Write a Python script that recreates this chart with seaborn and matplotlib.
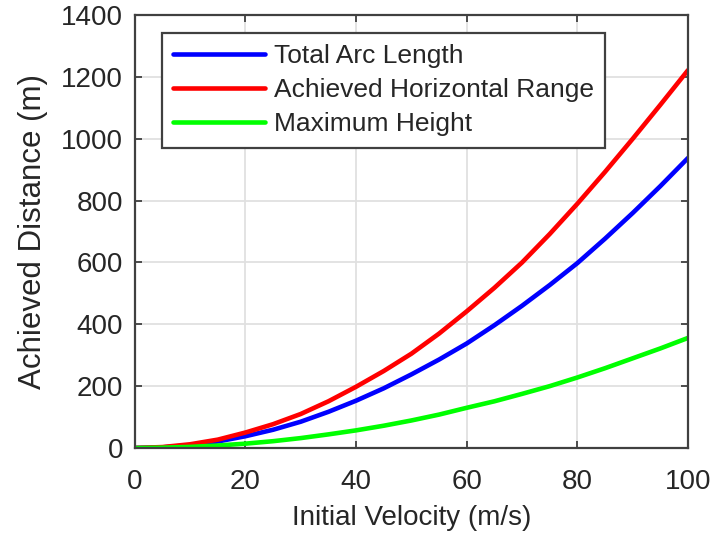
import pandas as pd
import matplotlib
matplotlib.use('Agg')
import matplotlib.pyplot as plt
import seaborn as sns

velocity = [0, 5, 10, 15, 20, 25, 30, 35, 40, 45, 50, 55, 60, 65, 70, 75, 80, 85, 90, 95, 100]
arc_length = [0, 2, 9, 21, 38, 59, 85, 117, 153, 193, 238, 286, 338, 397, 460, 527, 598, 677, 760, 847, 938]
horiz_range = [0, 3, 12, 27, 50, 77, 110, 151, 198, 249, 305, 370, 442, 518, 600, 692, 790, 893, 1000, 1110, 1222]
max_height = [0, 1, 3.5, 8, 14, 22, 32, 44, 57, 72, 89, 108, 130, 151, 175, 200, 228, 258, 290, 322, 356]
series_names = ['Total Arc Length', 'Achieved Horizontal Range', 'Maximum Height']
series_colors = ['#0000ff', '#ff0000', '#00ff00']

sns.set_style('whitegrid')
plt.rcParams['font.family'] = ['Liberation Sans', 'DejaVu Sans']

n = len(velocity)
df = pd.DataFrame({
    'v': velocity * 3,
    'd': arc_length + horiz_range + max_height,
    'series': [series_names[0]] * n + [series_names[1]] * n + [series_names[2]] * n,
})

fig = plt.figure(figsize=(7.17, 5.40), dpi=100)
ax = fig.add_axes([0.188, 0.1704, 0.7716, 0.8016])
sns.lineplot(data=df, x='v', y='d', hue='series', hue_order=series_names,
             palette=dict(zip(series_names, series_colors)), linewidth=3.3, ax=ax)

ax.set_xlim(0, 100)
ax.set_ylim(0, 1400)
ax.set_xticks([0, 20, 40, 60, 80, 100])
ax.set_yticks(range(0, 1401, 200))
ax.grid(True, color='#e0e0e0', linewidth=1.3)
txt = '#262626'
for s in ax.spines.values():
    s.set_visible(True)
    s.set_color('#404040')
    s.set_linewidth(1.6)
ax.tick_params(direction='in', length=5, width=1.3, color='#404040', labelsize=20,
               labelcolor=txt, top=True, right=True, bottom=True, left=True)
ax.tick_params(axis='x', pad=15)
ax.tick_params(axis='y', pad=8.5)
ax.set_xlabel('Initial Velocity (m/s)', fontsize=20, color=txt, labelpad=7)
ax.set_ylabel('Achieved Distance (m)', fontsize=22.5, color=txt, labelpad=9)

leg = ax.legend(loc='upper left', bbox_to_anchor=(0.049, 0.958), borderaxespad=0,
                fontsize=19, handlelength=3.5, fancybox=False, framealpha=1,
                edgecolor='#404040', labelspacing=0.38, handletextpad=0.32, borderpad=0.42)
leg.get_frame().set_linewidth(1.6)
for t in leg.get_texts():
    t.set_color(txt)

fig.savefig('out.png', dpi=100)
